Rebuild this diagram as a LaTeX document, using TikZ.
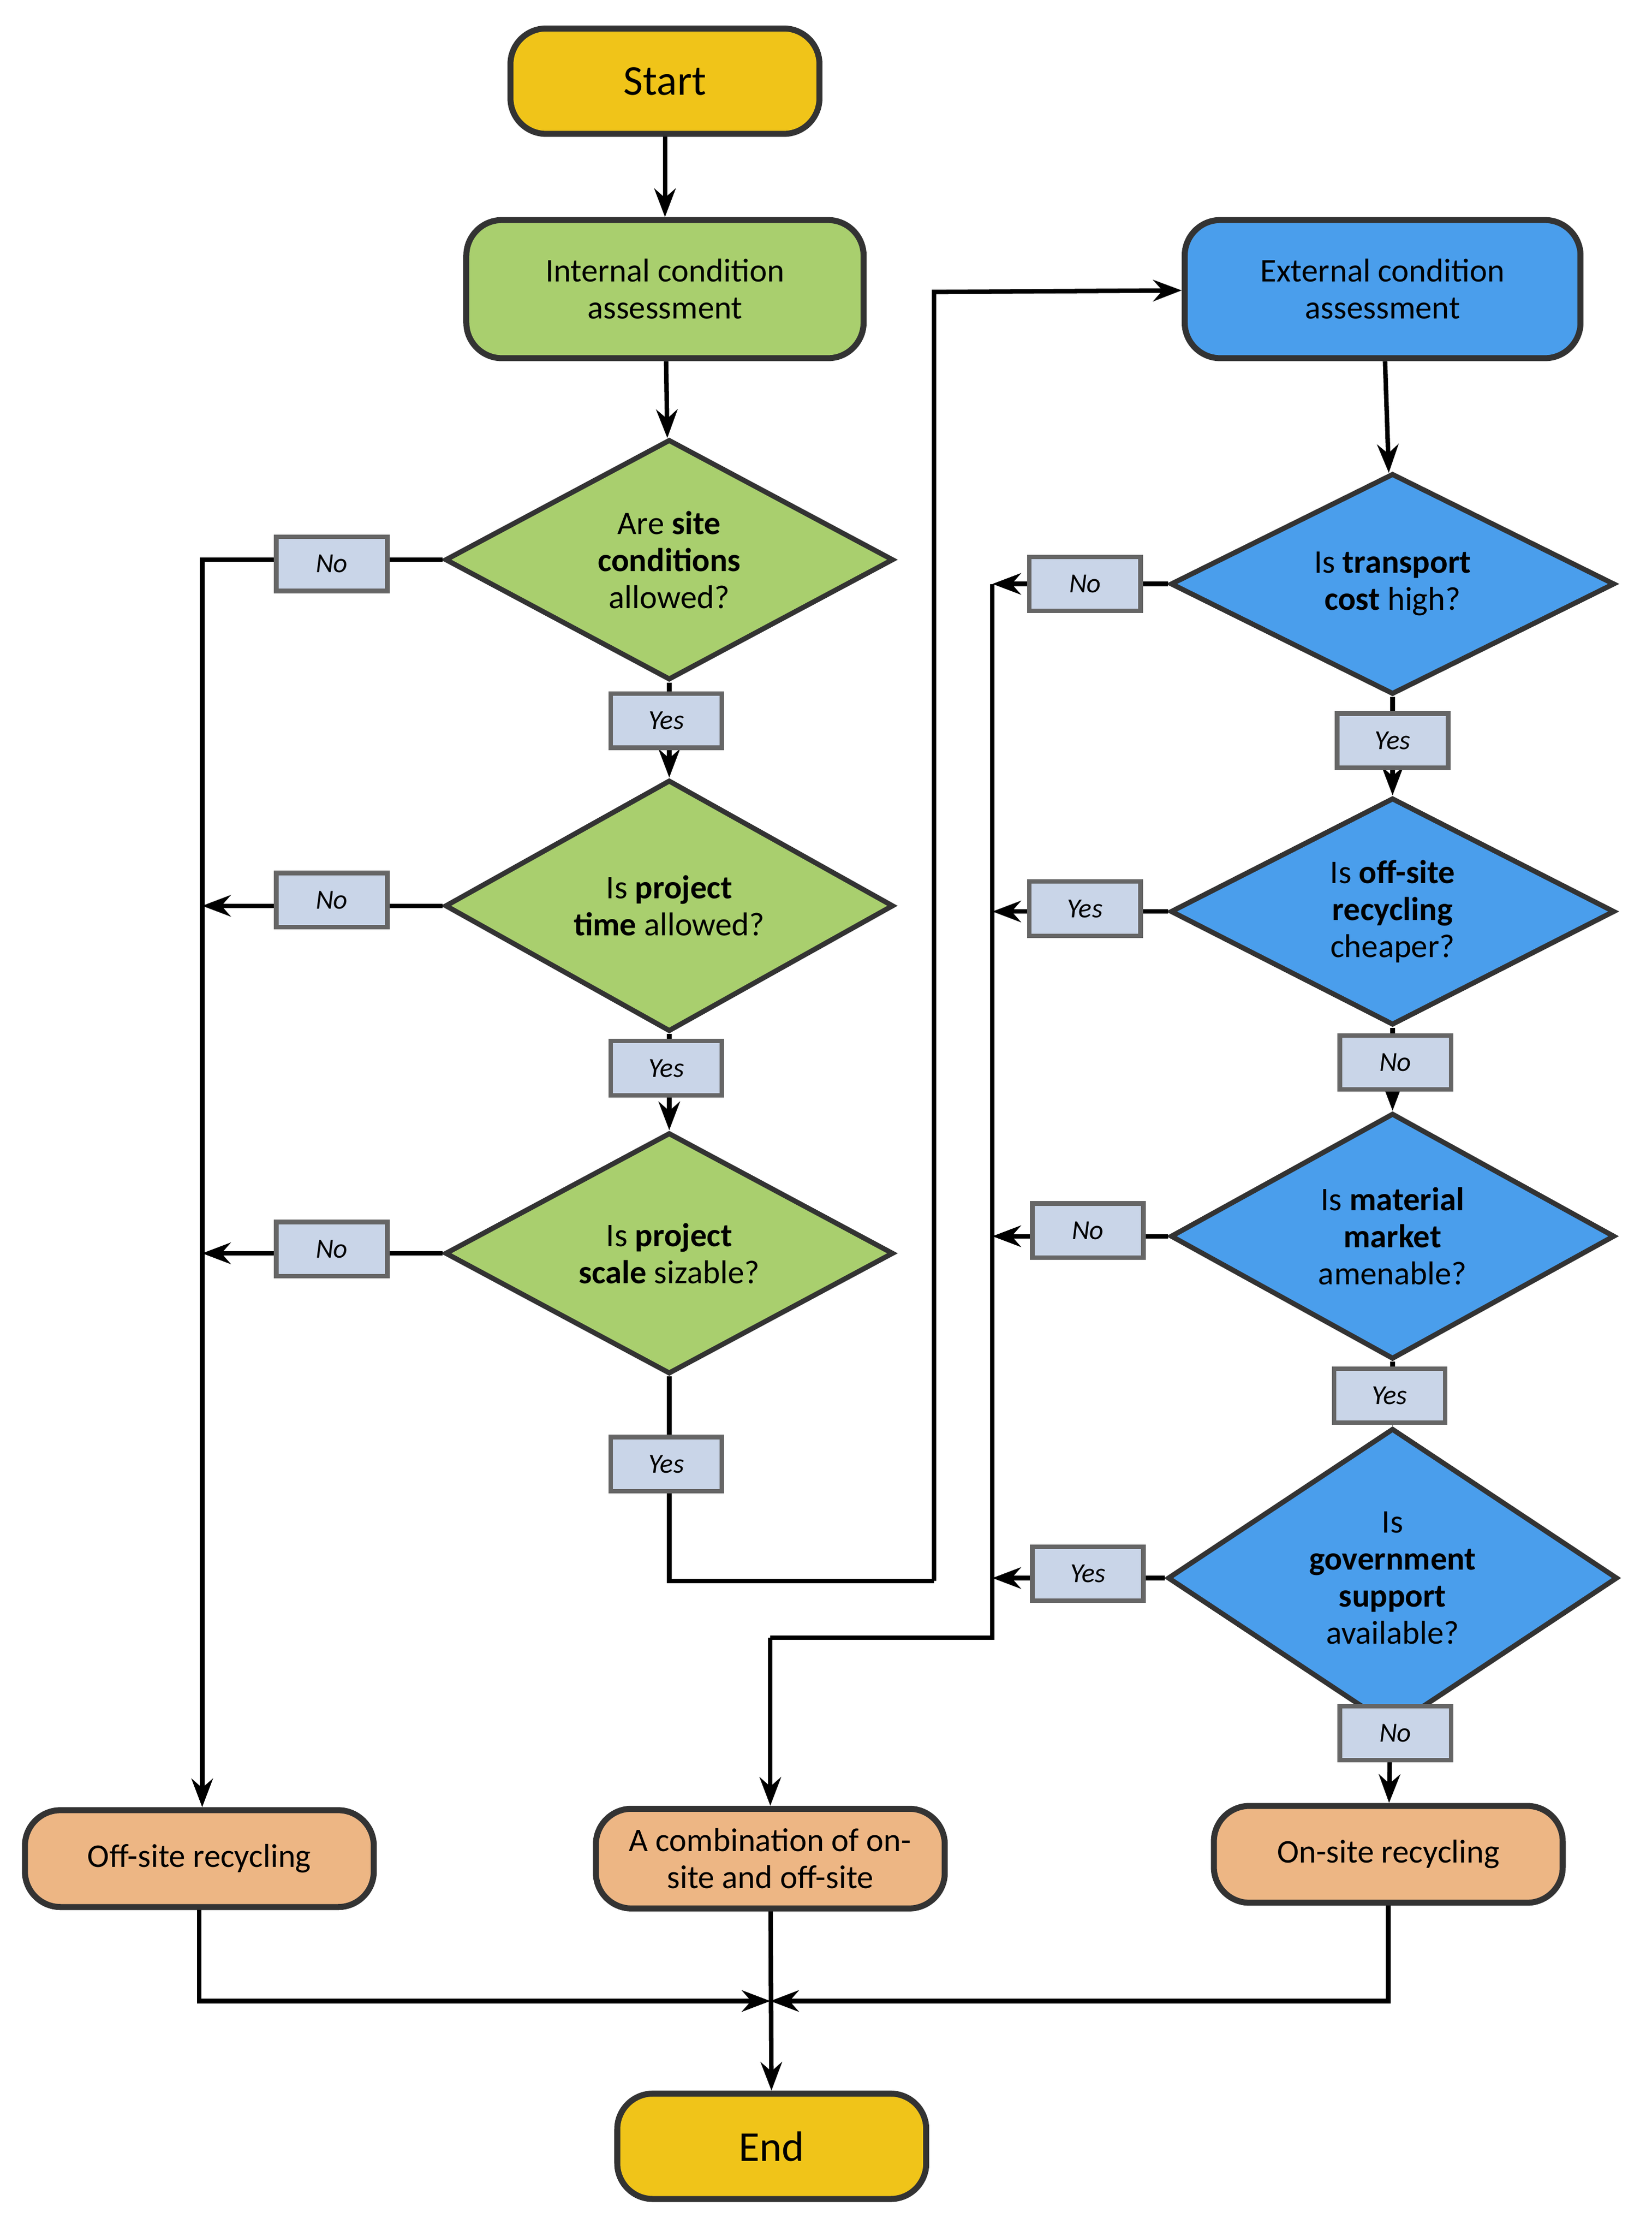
\documentclass[tikz,border=0pt]{standalone}
\usepackage{fontspec}
\setmainfont{Carlito}
\usetikzlibrary{shapes.geometric,positioning,arrows.meta}
\definecolor{startyel}{HTML}{F0C419}
\definecolor{intgreen}{HTML}{A9CF6E}
\definecolor{extblue}{HTML}{4A9EEC}
\definecolor{outtan}{HTML}{EDB684}
\definecolor{tagblue}{HTML}{C9D5E8}
\begin{document}
\begin{tikzpicture}[x=1cm,y=1cm,>={Stealth[length=2mm]},line width=0.9pt,
	every node/.style={font=\fontsize{6.6}{7.4}\selectfont},
	box/.style={rectangle, rounded corners=2.5mm, draw=black!80, line width=1.2pt, align=center, inner sep=1pt},
	term/.style={box, fill=startyel, minimum width=2.17cm, minimum height=0.74cm, font=\fontsize{8.5}{10}\selectfont},
	inbox/.style={box, fill=intgreen, minimum width=2.79cm, minimum height=0.97cm},
	exbox/.style={box, fill=extblue, minimum width=2.78cm, minimum height=0.97cm},
	outbox/.style={box, fill=outtan, minimum width=2.45cm, minimum height=0.68cm},
	indec/.style={diamond, draw=black!80, line width=1pt, fill=intgreen, minimum width=3.15cm, minimum height=1.26cm, inner sep=0pt, align=center},
	exdec/.style={diamond, draw=black!80, line width=1pt, fill=extblue, minimum width=3.12cm, minimum height=1.24cm, inner sep=0pt, align=center},
	tag/.style={rectangle, draw=black!60, fill=tagblue, minimum width=0.78cm, minimum height=0.38cm, inner sep=0pt, font=\fontsize{5.5}{6}\selectfont\itshape}
	]
\useasboundingbox (0,0) rectangle (11.6,-15.7);

% left column
\node[term] (start) at (4.67,-0.57) {Start};
\node[inbox] (internal) at (4.67,-2.03) {Internal condition\\assessment};
\node[indec] (site) at (4.70,-3.93) {Are \textbf{site}\\\textbf{conditions}\\allowed?};
\node[indec] (time) at (4.70,-6.36) {Is \textbf{project}\\\textbf{time} allowed?};
\node[indec] (scale) at (4.70,-8.80) {Is \textbf{project}\\\textbf{scale} sizable?};

% right column
\node[exbox] (external) at (9.71,-2.03) {External condition\\assessment};
\node[exdec] (transport) at (9.78,-4.10) {Is \textbf{transport}\\\textbf{cost} high?};
\node[exdec] (offcheap) at (9.78,-6.40) {Is \textbf{off-site}\\\textbf{recycling}\\cheaper?};
\node[exdec] (market) at (9.78,-8.68) {Is \textbf{material}\\\textbf{market}\\amenable?};
\node[exdec, minimum width=3.16cm, minimum height=1.40cm] (gov) at (9.78,-11.08) {Is\\\textbf{government}\\\textbf{support}\\available?};

% outcomes
\node[outbox] (offsite) at (1.40,-13.05) {Off-site recycling};
\node[outbox, minimum height=0.70cm] (combo) at (5.41,-13.05) {A combination of on-\\site and off-site};
\node[outbox] (onsite) at (9.75,-13.02) {On-site recycling};
\node[term] (end) at (5.42,-15.07) {End};

% bus coordinates
\coordinate (lbus) at (1.42,-3.93);
\coordinate (rbus) at (6.97,-4.10);
\coordinate (rturn) at (6.97,-11.50);
\coordinate (cturn) at (5.41,-11.50);
\coordinate (sturn) at (4.70,-11.10);
\coordinate (uturn) at (6.56,-11.10);
\coordinate (eturn) at (6.56,-2.05);
\coordinate (merge) at (5.41,-14.05);

% connectors
\draw[->] (start) -- (internal);
\draw[->] (internal) -- (site);
\draw[->] (site) -- (time);
\draw[->] (time) -- (scale);
\draw (scale) -- (sturn) -- (uturn);
\draw[->] (uturn) -- (eturn) -- (external);
\draw[->] (external) -- (transport);
\draw[->] (transport) -- (offcheap);
\draw[->] (offcheap) -- (market);
\draw[->] (market) -- (gov);
\draw[->] (gov) -- (onsite);

\draw[->] (site.west) -- (lbus) -- (offsite.north -| lbus);
\draw[->] (time.west) -- (time.west -| lbus);
\draw[->] (scale.west) -- (scale.west -| lbus);

\draw[->] (transport.west) -- (rbus);
\draw (rbus) -- (rturn) -- (cturn);
\draw[->] (cturn) -- (combo);
\draw[->] (offcheap.west) -- (offcheap.west -| rbus);
\draw[->] (market.west) -- (market.west -| rbus);
\draw[->] (gov.west) -- (gov.west -| rbus);

\draw[->] (offsite) |- (merge);
\draw[->] (onsite) |- (merge);
\draw[->] (combo) -- (end);

% tags
\node[tag] (t1) at (2.33,-3.96) {No};
\node[tag] (t2) at (4.68,-5.06) {Yes};
\node[tag] (t3) at (2.33,-6.32) {No};
\node[tag] (t4) at (4.68,-7.50) {Yes};
\node[tag] (t5) at (2.33,-8.77) {No};
\node[tag] (t6) at (4.68,-10.28) {Yes};
\node[tag] (t7) at (7.62,-4.10) {No};
\node[tag] (t8) at (9.78,-5.20) {Yes};
\node[tag] (t9) at (7.62,-6.38) {Yes};
\node[tag] (t10) at (9.80,-7.46) {No};
\node[tag] (t11) at (7.64,-8.64) {No};
\node[tag] (t12) at (9.76,-9.80) {Yes};
\node[tag] (t13) at (7.64,-11.05) {Yes};
\node[tag] (t14) at (9.80,-12.17) {No};
\end{tikzpicture}
\end{document}
